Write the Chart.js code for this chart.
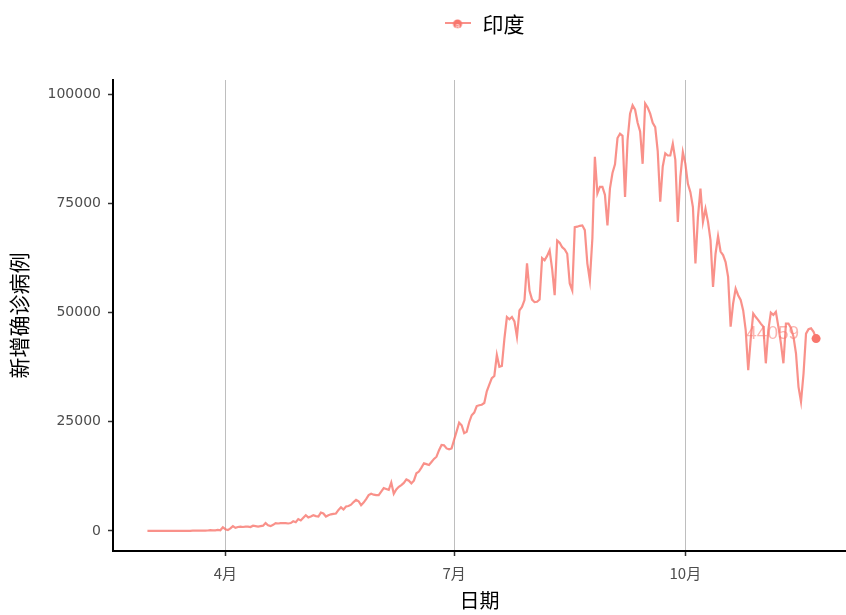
<!DOCTYPE html>
<html>
<head>
<meta charset="utf-8">
<script src="https://cdn.jsdelivr.net/npm/chart.js@4.4.0/dist/chart.umd.min.js"></script>
<style>
  html, body { margin: 0; padding: 0; background: #fff; }
</style>
</head>
<body>
<canvas id="indiaChart" width="846" height="615"></canvas>
<script>
// daily new cases, one value per day starting from startDate
const startDate = "2020-03-01";
const marCases = [2, 1, 22, 2, 1, 3, 5, 9, 15, 8, 10, 10, 12, 13, 12, 17, 14, 31, 56, 81, 83, 99, 74, 87, 95, 163, 120, 131, 226, 146, 850];
const aprCases = [400, 200, 600, 1100, 700, 900, 1000, 900, 1000, 1000, 900, 1200, 1100, 1000, 1100, 1200, 1800, 1300, 1100, 1400, 1800, 1700, 1800, 1800, 1800, 1700, 1800, 2200, 2000, 2700];
const mayCases = [2400, 3000, 3600, 3100, 3300, 3600, 3400, 3300, 4200, 4000, 3300, 3600, 3800, 3900, 4000, 4800, 5400, 4900, 5600, 5700, 6000, 6600, 7100, 6800, 5900, 6500, 7300, 8200, 8500, 8300, 8200];
const junCases = [8200, 9000, 9800, 9600, 9400, 11100, 8500, 9500, 10100, 10500, 11000, 11800, 11500, 10900, 11500, 13200, 13600, 14500, 15500, 15300, 15100, 15800, 16500, 17000, 18500, 19700, 19600, 18900, 18700, 18900];
const julCases = [20900, 22800, 24800, 24200, 22400, 22700, 24900, 26500, 27100, 28600, 28800, 28900, 29300, 32000, 33500, 35000, 35500, 40300, 37600, 37800, 44000, 49000, 48500, 49000, 48000, 44500, 50500, 51300, 52900, 61300, 55000];
const augCases = [53000, 52400, 52500, 53000, 62500, 62000, 63000, 64300, 60000, 54000, 66500, 66000, 65000, 64500, 63500, 56700, 55100, 69600, 69700, 69900, 70000, 68900, 61300, 57400, 67000, 85700, 77300, 78800, 78800, 77000, 70000];
const sepCases = [78500, 82000, 84000, 90000, 91000, 90500, 76500, 89500, 95600, 97500, 96500, 93500, 91500, 84100, 97900, 97000, 95600, 93500, 92500, 87000, 75400, 83500, 86500, 86000, 86000, 88700, 85000, 70800, 81100, 86800];
const octCases = [84100, 79500, 77600, 74200, 61300, 71900, 78400, 70800, 73800, 70800, 66600, 55900, 63500, 67500, 64000, 63200, 61600, 58200, 46800, 52100, 55500, 54000, 52900, 50500, 46000, 36800, 44000, 49800, 49000, 48300, 47500];
const novCases = [46800, 38400, 46000, 50000, 49500, 50200, 46800, 43000, 38400, 47500, 47500, 46500, 44500, 40700, 33000, 29600, 36000, 45200, 46200, 46400, 45600, 44059];

const seriesName = "印度";
const tickDates = ["2020-04-01", "2020-07-01", "2020-10-01"];
const tickLabels = ["4月", "7月", "10月"];
const yTicks = [0, 25000, 50000, 75000, 100000];
const xTitle = "日期";
const yTitle = "新增确诊病例";

// axis limits (days from startDate / cases), panel is a bit wider than the data
const xMin = -13.7;
const xMax = 277.9;
const yMin = -4600;
const yMax = 103300;

const lineColor = "rgba(248, 118, 109, 0.8)";
const pointColor = "#F8766D";
const cjkFont = "'Noto Sans CJK SC', 'Noto Sans', sans-serif";
const numFont = "'DejaVu Sans', 'Liberation Sans', sans-serif";

const cases = [].concat(marCases, aprCases, mayCases, junCases, julCases, augCases, sepCases, octCases, novCases);

function dayOffset(d) {
  return Math.round((Date.parse(d) - Date.parse(startDate)) / 86400000);
}

const points = cases.map((v, i) => ({ x: i, y: v }));
const radii = cases.map((v, i) => (i === cases.length - 1 ? 4.5 : 0));

// little legend key: line + point + "a"
function makeKey() {
  const c = document.createElement("canvas");
  c.width = 26;
  c.height = 20;
  const g = c.getContext("2d");
  g.strokeStyle = lineColor;
  g.lineWidth = 2;
  g.beginPath();
  g.moveTo(0, 9);
  g.lineTo(26, 9);
  g.stroke();
  g.fillStyle = pointColor;
  g.beginPath();
  g.arc(13, 10, 4.5, 0, Math.PI * 2);
  g.fill();
  g.fillStyle = "rgba(255, 255, 255, 0.7)";
  g.font = "bold 9px 'Liberation Sans', sans-serif";
  g.textAlign = "center";
  g.textBaseline = "middle";
  g.fillText("a", 13, 13);
  return c;
}
const keyCanvas = makeKey();

const topLegend = {
  id: "topLegend",
  afterDraw(chart) {
    const ctx = chart.ctx;
    const area = chart.chartArea;
    ctx.save();
    ctx.font = "21px " + cjkFont;
    const tw = ctx.measureText(seriesName).width;
    const total = 26 + 12 + tw;
    const cx = (area.left + area.right) / 2 + 5;
    const x0 = cx - total / 2;
    ctx.drawImage(keyCanvas, x0, 14);
    ctx.fillStyle = "#000";
    ctx.textBaseline = "middle";
    ctx.textAlign = "left";
    ctx.fillText(seriesName, x0 + 38, 24);
    ctx.restore();
  }
};

const endLabel = {
  id: "endLabel",
  afterDatasetsDraw(chart) {
    const meta = chart.getDatasetMeta(0);
    const last = meta.data[meta.data.length - 1];
    const ctx = chart.ctx;
    ctx.save();
    ctx.font = "19px 'Liberation Sans', sans-serif";
    ctx.fillStyle = "rgba(248, 118, 109, 0.55)";
    ctx.textAlign = "right";
    ctx.textBaseline = "middle";
    ctx.fillText(String(cases[cases.length - 1]), last.x - 17, last.y - 5);
    ctx.restore();
  }
};

const ctx = document.getElementById("indiaChart").getContext("2d");
new Chart(ctx, {
  type: "line",
  data: {
    datasets: [
      {
        label: seriesName,
        data: points,
        borderColor: lineColor,
        borderWidth: 2.2,
        pointRadius: radii,
        pointBackgroundColor: pointColor,
        pointBorderColor: pointColor,
        pointBorderWidth: 0,
        tension: 0,
        fill: false
      }
    ]
  },
  options: {
    responsive: false,
    animation: false,
    layout: { autoPadding: false, padding: { top: 80, right: 0, bottom: 0, left: 0 } },
    plugins: {
      legend: { display: false },
      tooltip: { enabled: false }
    },
    scales: {
      x: {
        type: "linear",
        min: xMin,
        max: xMax,
        afterBuildTicks: (scale) => {
          scale.ticks = tickDates.map((d) => ({ value: dayOffset(d) }));
        },
        afterFit: (scale) => {
          scale.height = 64;
          scale.paddingLeft = 0;
          scale.paddingRight = 0;
        },
        ticks: {
          padding: 8,
          color: "#4D4D4D",
          font: { family: cjkFont, size: 15 },
          maxRotation: 0,
          callback: (value) => {
            const idx = tickDates.findIndex((d) => dayOffset(d) === value);
            return idx >= 0 ? tickLabels[idx] : "";
          }
        },
        grid: {
          color: "#BEBEBE",
          lineWidth: 1,
          tickLength: 5,
          tickColor: "#333",
          tickWidth: 1.5
        },
        border: { display: true, color: "#000", width: 2 },
        title: {
          display: true,
          text: xTitle,
          color: "#000",
          font: { family: cjkFont, size: 20 },
          padding: { top: 0, bottom: 3 }
        }
      },
      y: {
        min: yMin,
        max: yMax,
        afterBuildTicks: (scale) => {
          scale.ticks = yTicks.map((v) => ({ value: v }));
        },
        afterFit: (scale) => {
          scale.width = 113;
          scale.paddingTop = 0;
          scale.paddingBottom = 0;
        },
        ticks: {
          padding: 7,
          color: "#4D4D4D",
          font: { family: numFont, size: 14 },
          callback: (value) => String(value)
        },
        grid: {
          drawOnChartArea: false,
          tickLength: 5,
          tickColor: "#333",
          tickWidth: 1.5
        },
        border: { display: true, color: "#000", width: 2 },
        title: {
          display: true,
          text: yTitle,
          color: "#000",
          font: { family: cjkFont, size: 21 },
          padding: { top: 6, bottom: 0 }
        }
      }
    }
  },
  plugins: [topLegend, endLabel]
});
</script>
</body>
</html>
